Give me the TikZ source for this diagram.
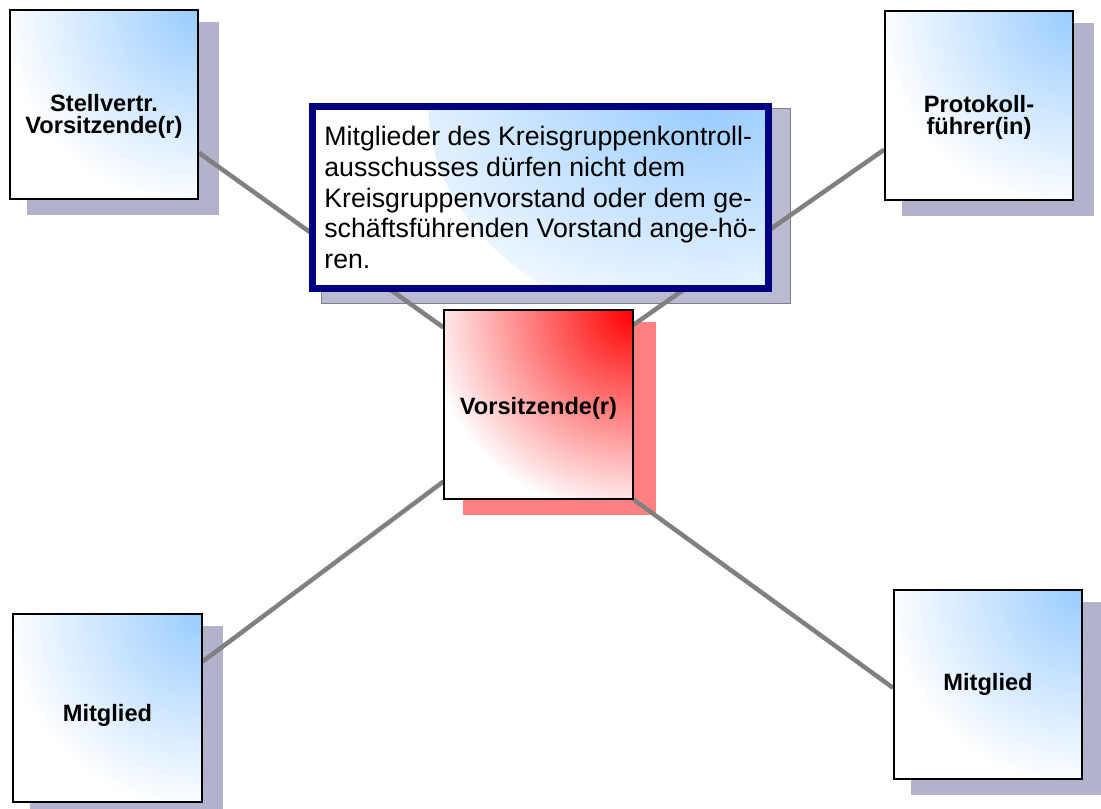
\documentclass[tikz,border=0pt]{standalone}
\usepackage{fontspec}
\setmainfont{Liberation Sans}
\usetikzlibrary{positioning}
\definecolor{boxblue}{RGB}{153,204,255}
\definecolor{shadowblue}{RGB}{178,178,204}
\definecolor{shadowred}{RGB}{255,128,128}
\definecolor{notenavy}{RGB}{0,0,128}
\definecolor{linkgray}{RGB}{128,128,128}
\newcommand\PxUnit{0.025cm}
\pgfdeclarelayer{shadowlayer}
\pgfdeclarelayer{linklayer}
\pgfsetlayers{shadowlayer,linklayer,main}
\tikzset{
  orgbox/.style={
    shape = rectangle,
    draw = black,
    fill = white,
    line width = 1.4pt,
    minimum width = 4.7cm,
    minimum height = 4.7cm,
    inner sep = 0pt
  },
  bluebox/.style={
    orgbox,
    path picture={\shade[inner color=boxblue, outer color=white] (path picture bounding box.north east) circle (4.9cm);}
  },
  redbox/.style={
    orgbox,
    path picture={\shade[inner color=red, outer color=white] (path picture bounding box.north east) circle (5.2cm);}
  },
  boxlabel/.style={
    font = \fontsize{16.8}{15.6}\selectfont\bfseries,
    align = center,
    inner sep = 0pt
  },
  notebox/.style={
    shape = rectangle,
    draw = notenavy,
    fill = white,
    line width = 5pt,
    minimum width = 11.4cm,
    minimum height = 4.55cm,
    align = left,
    font = \fontsize{19}{21.8}\selectfont,
    path picture={\shade[inner color=boxblue, outer color=white] (path picture bounding box.north east) ellipse (8.5cm and 6cm);}
  },
  link/.style={
    draw = linkgray,
    line width = 3.2pt
  }
}

\begin{document}
\begin{tikzpicture}[x=\PxUnit, y=-\PxUnit]
    \useasboundingbox (0,0) rectangle (1101,809);

    \node[bluebox] (vice) at (104,104.5) {};
    \node[boxlabel] (vicetext) at ([shift={(0,12)}]vice.center) {Stellvertr.\\Vorsitzende(r)};
    \node[bluebox] (clerk) at (979,105.5) {};
    \node[boxlabel] (clerktext) at ([shift={(0,12)}]clerk.center) {Protokoll-\\führer(in)};

    \node[redbox] (chair) at (538.5,404.5) {};
    \node[boxlabel] (chairtext) at ([shift={(0,4)}]chair.center) {Vorsitzende(r)};

    \node[bluebox] (memberL) at (107.5,708) {};
    \node[boxlabel] (memberLtext) at ([shift={(0,7)}]memberL.center) {Mitglied};
    \node[bluebox] (memberR) at (988,684.5) {};
    \node[boxlabel] (memberRtext) at (memberR.center) {Mitglied};

    \node[notebox] (rule) at (540.5,197.5) {Mitglieder des Kreisgruppenkontroll-\\ausschusses dürfen nicht dem\\Kreisgruppenvorstand oder dem ge-\\schäftsführenden Vorstand ange-hö-\\ren.};

    % shadows
    \begin{pgfonlayer}{shadowlayer}
      \foreach \n in {vice,clerk,memberL,memberR}
        \fill[shadowblue] ([shift={(18,15)}]\n.south west) rectangle ([shift={(20,13)}]\n.north east);
      \fill[shadowred] ([shift={(20,15)}]chair.south west) rectangle ([shift={(22,13)}]chair.north east);
      \filldraw[fill=shadowblue!90, draw=shadowblue!70!black, line width=0.4pt] ([shift={(12.5,11.5)}]rule.south west) rectangle ([shift={(18.5,5.5)}]rule.north east);
    \end{pgfonlayer}

    % connectors
    \begin{pgfonlayer}{linklayer}
      \draw[link] (vice.333) -- (chair.141);
      \draw[link] (clerk.205) -- (chair.40);
      \draw[link] (memberL.26) -- (chair.219);
      \draw[link] (memberR.182) -- (chair.south east);
    \end{pgfonlayer}
\end{tikzpicture}
\end{document}
